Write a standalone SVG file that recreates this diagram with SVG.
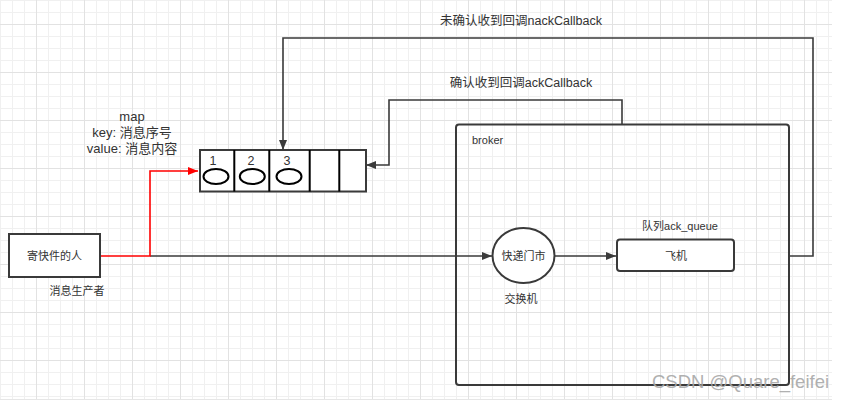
<svg xmlns="http://www.w3.org/2000/svg" width="846" height="403" viewBox="0 0 846 403">
<style>
text{font-family:"Liberation Sans","Noto Sans CJK SC",sans-serif;fill:#333}
.ln{fill:none;stroke:#3a3a3a;stroke-width:1.6}
.box{fill:#fff;stroke:#3a3a3a;stroke-width:2}
.s13{font-size:12.5px}
.s11{font-size:11px}
</style>
<defs>
<pattern id="minor" width="12" height="12" patternUnits="userSpaceOnUse">
<rect x="0" y="0" width="12" height="1" fill="#f0f0f0"/>
<rect x="0" y="0" width="1" height="12" fill="#f0f0f0"/>
</pattern>
<pattern id="major" x="36" y="24" width="48" height="48" patternUnits="userSpaceOnUse">
<rect x="0" y="0" width="48" height="1" fill="#e2e2e2"/>
<rect x="0" y="0" width="1" height="48" fill="#e2e2e2"/>
</pattern>
<marker id="ah" markerWidth="10" markerHeight="8" refX="10" refY="4" orient="auto" markerUnits="userSpaceOnUse">
<path d="M0 0 L10 4 L0 8 Z" fill="#3a3a3a"/>
</marker>
<marker id="ahr" markerWidth="10" markerHeight="8" refX="10" refY="4" orient="auto" markerUnits="userSpaceOnUse">
<path d="M0 0 L10 4 L0 8 Z" fill="#ff0000"/>
</marker>
</defs>
<rect width="846" height="403" fill="#fff"/>
<rect width="832" height="400" fill="url(#minor)"/>
<rect width="832" height="400" fill="url(#major)"/>
<rect x="0" y="399" width="832" height="1" fill="#e6e6e6"/>

<g id="connectors">
<path class="ln" d="M150 256 H492" marker-end="url(#ah)"/>
<path d="M100 256 H150 V171 H198" fill="none" stroke="#ff0000" stroke-width="1.6" marker-end="url(#ahr)"/>
<path class="ln" d="M555 256 H616" marker-end="url(#ah)"/>
<path class="ln" d="M789 256 H813 V38 H283 V150" marker-end="url(#ah)"/>
<path class="ln" d="M622 124 V100 H389 V165 H366" marker-end="url(#ah)"/>
</g>

<g id="broker">
<rect x="456" y="124.5" width="333" height="260.5" rx="3" fill="none" stroke="#3a3a3a" stroke-width="2"/>
<text x="472" y="144" class="s11">broker</text>
</g>

<g id="producer">
<rect x="9" y="234" width="91" height="43" class="box"/>
<text x="54.5" y="260" class="s11" text-anchor="middle">寄快件的人</text>
<text x="77" y="295" class="s11" text-anchor="middle">消息生产者</text>
</g>

<g id="map-label">
<text x="132" y="121" font-size="13" text-anchor="middle">map</text>
<text x="132" y="137" font-size="13" text-anchor="middle">key: 消息序号</text>
<text x="132" y="152.5" font-size="13" text-anchor="middle">value: 消息内容</text>
</g>

<g id="queue-array">
<rect x="200" y="150" width="166" height="41.5" fill="#fff" stroke="#3a3a3a" stroke-width="2"/>
<path d="M234.3 150 V191.5 M269.3 150 V191.5 M309.7 150 V191.5 M339.3 150 V191.5" stroke="#000" stroke-width="2"/>
<ellipse cx="216" cy="176.5" rx="12.5" ry="7.5" fill="none" stroke="#000" stroke-width="2"/>
<ellipse cx="252.3" cy="176.5" rx="12.5" ry="7.5" fill="none" stroke="#000" stroke-width="2"/>
<ellipse cx="289" cy="176.5" rx="12.5" ry="7.5" fill="none" stroke="#000" stroke-width="2"/>
<text x="213" y="165" class="s13" text-anchor="middle">1</text>
<text x="251" y="165" class="s13" text-anchor="middle">2</text>
<text x="287" y="165" class="s13" text-anchor="middle">3</text>
</g>

<g id="exchange">
<ellipse cx="523.5" cy="255.5" rx="31" ry="27.5" class="box"/>
<text x="523.5" y="259.5" class="s11" text-anchor="middle">快递门市</text>
<text x="521" y="303" class="s11" text-anchor="middle">交换机</text>
</g>

<g id="queue">
<rect x="617" y="239.5" width="117" height="31.5" rx="3" class="box"/>
<text x="676" y="259.5" class="s11" text-anchor="middle">飞机</text>
<text x="680" y="230" class="s11" text-anchor="middle">队列ack_queue</text>
</g>

<g id="labels">
<text x="521" y="24.5" class="s13" text-anchor="middle">未确认收到回调nackCallback</text>
<text x="521" y="87" class="s13" text-anchor="middle">确认收到回调ackCallback</text>
</g>

<text x="740.5" y="387.5" font-size="18.5" text-anchor="middle" style="fill:#a8a8a8;opacity:0.9">CSDN @Quare_feifei</text>
</svg>
